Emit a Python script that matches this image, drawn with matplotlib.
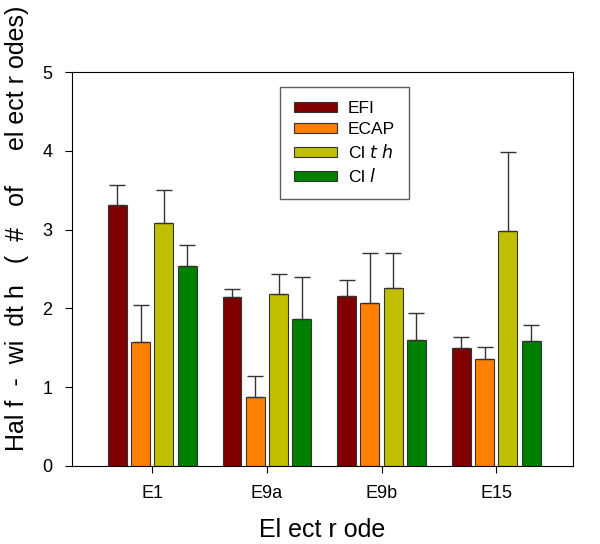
import numpy as np
import matplotlib.pyplot as plt

plt.rcParams['font.family'] = ['Liberation Sans', 'DejaVu Sans']

electrodes = ['E1', 'E9a', 'E9b', 'E15']
series = ['EFI', 'ECAP', 'Cl $\\it{t\\ h}$', 'Cl $\\it{l}$']
colors = ['#800000', '#ff8000', '#c0c000', '#008000']

# bar heights and upper error (+1 SD)
efi = [3.31, 2.14, 2.16, 1.50]
efi_err = [0.25, 0.10, 0.20, 0.14]
ecap = [1.57, 0.87, 2.07, 1.36]
ecap_err = [0.47, 0.27, 0.63, 0.15]
clth = [3.08, 2.18, 2.26, 2.98]
clth_err = [0.42, 0.26, 0.44, 1.00]
cll = [2.54, 1.86, 1.60, 1.58]
cll_err = [0.27, 0.54, 0.34, 0.21]

values = [efi, ecap, clth, cll]
errors = [efi_err, ecap_err, clth_err, cll_err]

fig = plt.figure(figsize=(6, 5.44), dpi=100)
ax = fig.add_axes([0.12, 0.1434, 0.835, 0.7242])

x = np.arange(len(electrodes))
step = 0.203
width = 0.165
for i in range(4):
    pos = x + (i - 1.5) * step
    ax.bar(pos, values[i], width, color=colors[i], edgecolor='#333333',
           linewidth=0.8, label=series[i], zorder=2)
    ax.errorbar(pos, values[i], yerr=[np.zeros(4), errors[i]], fmt='none',
                ecolor='#333333', elinewidth=1, capsize=6, capthick=1, zorder=3)

ax.set_xlim(-0.7, 3.67)
ax.set_ylim(0, 5)
ax.set_xticks(x)
ax.set_xticklabels(electrodes)
ax.set_yticks(range(6))
ax.tick_params(axis='both', labelsize=13, direction='out', length=5, pad=9)
ax.set_xlabel('El ect r ode', fontsize=18, labelpad=11)
ax.set_ylabel('Hal f  -  wi  dt h   (  #   of     el ect r odes)', fontsize=18)
ax.yaxis.set_label_coords(-0.085, 0.604)

leg = ax.legend(loc='upper left', bbox_to_anchor=(0.415, 0.962), borderaxespad=0,
                fontsize=12.5, handlelength=2.5, handleheight=0.55, frameon=True,
                fancybox=False, edgecolor='#333333', borderpad=0.8,
                labelspacing=0.35, handletextpad=0.6)
leg.get_frame().set_linewidth(1.0)

fig.savefig('out.png', dpi=100)
